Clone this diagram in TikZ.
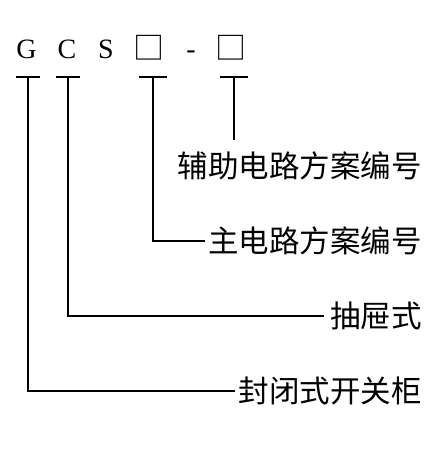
\documentclass[tikz,border=0pt]{standalone}
\usepackage{fontspec}
\setmainfont{Liberation Serif}
\newfontfamily\cjk{Noto Sans CJK SC}
\begin{document}
\begin{tikzpicture}[x=1pt,y=-1pt,
  code/.style={inner sep=0pt,anchor=base,font=\fontsize{28}{28}\selectfont},
  boxch/.style={inner sep=0pt,anchor=center,font=\cjk\fontsize{31}{31}\selectfont},
  lbl/.style={inner sep=0pt,anchor=east,font=\cjk\fontsize{30.5}{30.5}\selectfont},
  ln/.style={line width=1.4pt},
  tbar/.style={line width=1.4pt}]
\useasboundingbox (0,0) rectangle (444,450);
% code letters
\node[code] (G) at (26.5,58) {G};
\node[code] (C) at (67,58) {C};
\node[code] (S) at (106,58) {S};
\node[boxch] (B1) at (149,48) {□};
\node[code] (D) at (191,58) {-};
\node[boxch] (B2) at (231,48) {□};
% T tops
\coordinate (tG) at (28,77);
\coordinate (tC) at (68,77);
\coordinate (tB1) at (153,77);
\coordinate (tB2) at (234,77);
\foreach \c/\w in {tG/12,tC/12,tB1/14,tB2/14}{
  \draw[tbar] ([xshift=-\w pt]\c) -- ([xshift=\w pt]\c);
}
% labels
\node[lbl] (L1) at (422,166) {辅助电路方案编号};
\node[lbl] (L2) at (422,241) {主电路方案编号};
\node[lbl] (L3) at (422,316) {抽屉式};
\node[lbl] (L4) at (422,391) {封闭式开关柜};
\coordinate (eB2) at (234,140);
% connectors
\draw[ln] (tB2) -- (eB2);
\draw[ln] (tB1) |- ([xshift=-3pt]L2.west);
\draw[ln] (tC) |- ([xshift=-6pt]L3.west);
\draw[ln] (tG) |- ([xshift=-4pt]L4.west);
\end{tikzpicture}
\end{document}
